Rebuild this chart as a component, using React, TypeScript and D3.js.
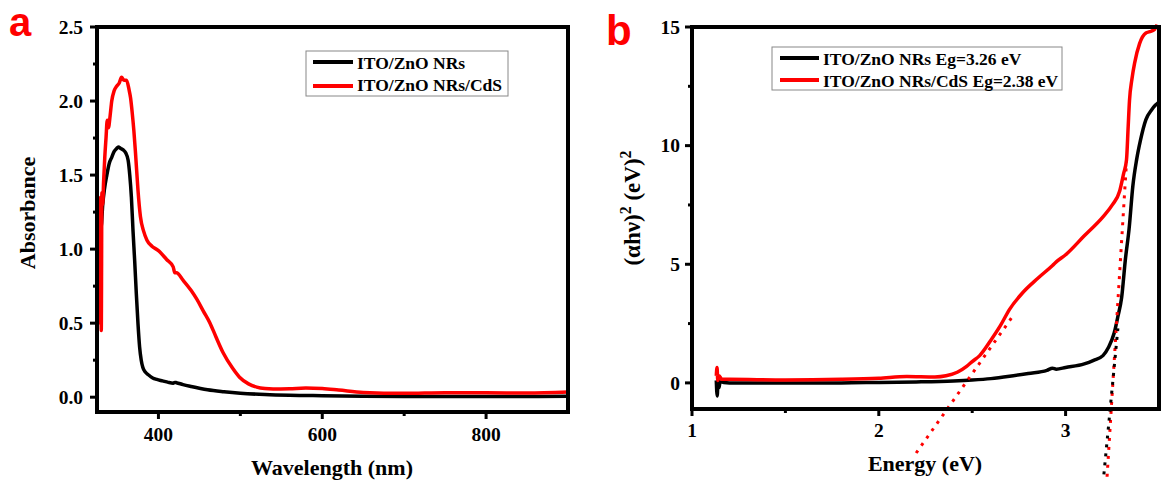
import React from "react";
import * as d3 from "d3";

// ---------- Panel a: UV-Vis absorbance ----------
const wlBlack = [325.5, 327, 328.5, 330, 332, 334, 337, 340, 343, 346, 349, 351, 354, 357, 360, 363, 365, 367, 369, 371, 373, 375, 377, 379, 381, 384, 388, 393, 398, 405, 412, 418, 420, 422, 430, 440, 460, 480, 500, 530, 560, 600, 650, 700, 800, 900];
const absBlack = [1.2, 0.95, 1.25, 1.15, 1.3, 1.4, 1.5, 1.58, 1.62, 1.66, 1.68, 1.69, 1.68, 1.67, 1.65, 1.6, 1.5, 1.35, 1.12, 0.92, 0.7, 0.5, 0.34, 0.25, 0.2, 0.17, 0.15, 0.13, 0.12, 0.11, 0.1, 0.095, 0.1, 0.098, 0.085, 0.072, 0.05, 0.037, 0.027, 0.018, 0.013, 0.01, 0.007, 0.005, 0.004, 0.006];

const wlRed = [325.5, 326.2, 327, 327.8, 328.6, 329.4, 330.2, 331, 332, 333, 334.5, 336, 337.5, 339, 341, 343, 346, 349, 352, 355, 358, 361, 364, 366, 368, 370, 372, 375, 378, 382, 386, 392, 400, 410, 418, 420, 422, 430, 440, 447, 455, 463, 470, 479, 490, 499, 510, 520, 530, 540, 560, 580, 600, 620, 650, 700, 750, 800, 850, 900];
const absRed = [0.6, 1.05, 0.55, 1.3, 0.5, 1.35, 0.45, 1.38, 1.3, 1.45, 1.62, 1.75, 1.87, 1.82, 1.9, 2.0, 2.07, 2.1, 2.12, 2.16, 2.14, 2.14, 2.08, 2.02, 1.92, 1.8, 1.65, 1.4, 1.22, 1.12, 1.06, 1.02, 0.99, 0.93, 0.88, 0.84, 0.84, 0.79, 0.72, 0.66, 0.58, 0.5, 0.41, 0.3, 0.2, 0.135, 0.09, 0.068, 0.058, 0.055, 0.057, 0.062, 0.058, 0.048, 0.032, 0.026, 0.03, 0.03, 0.028, 0.035];

const aXTicks = [400, 600, 800];
const aXMinor = [500, 700];
const aYTicks = [0, 0.5, 1.0, 1.5, 2.0, 2.5];
const aYMinor = [0.25, 0.75, 1.25, 1.75, 2.25];
const aLegend = ["ITO/ZnO NRs", "ITO/ZnO NRs/CdS"];

// ---------- Panel b: Tauc plot ----------
const eBlack = [1.13, 1.135, 1.14, 1.145, 1.15, 1.17, 1.2, 1.3, 1.5, 1.8, 2.0, 2.2, 2.4, 2.5, 2.6, 2.7, 2.8, 2.9, 2.93, 2.95, 3.0, 3.1, 3.15, 3.2, 3.23, 3.26, 3.28, 3.3, 3.32, 3.34, 3.36, 3.38, 3.4, 3.43, 3.46, 3.48, 3.495];
const tBlack = [0.1, -0.55, 0.2, -0.2, 0.05, 0.02, 0.0, 0.0, 0.0, 0.0, 0.02, 0.04, 0.08, 0.12, 0.18, 0.28, 0.4, 0.53, 0.62, 0.58, 0.65, 0.8, 0.95, 1.15, 1.5, 2.1, 2.8, 3.6, 5.2, 6.5, 8.3, 9.4, 10.2, 11.1, 11.5, 11.7, 11.8];

const eRed = [1.13, 1.134, 1.138, 1.145, 1.16, 1.2, 1.5, 1.8, 2.0, 2.15, 2.3, 2.36, 2.42, 2.47, 2.5, 2.54, 2.6, 2.65, 2.7, 2.77, 2.85, 2.93, 2.95, 3.0, 3.1, 3.2, 3.25, 3.29, 3.31, 3.326, 3.335, 3.342, 3.355, 3.37, 3.396, 3.43, 3.45, 3.476, 3.49];
const tRed = [0.3, 0.65, 0.1, 0.3, 0.15, 0.15, 0.12, 0.15, 0.2, 0.27, 0.25, 0.3, 0.45, 0.7, 0.9, 1.15, 1.8, 2.4, 3.1, 3.8, 4.4, 4.95, 5.1, 5.4, 6.2, 7.0, 7.5, 8.1, 8.8, 9.4, 10.8, 11.9, 12.8, 13.5, 14.3, 14.75, 14.8, 14.9, 15.1];

// tangent (extrapolation) lines: [slope, x-intercept, Estart, Eend]
const tangentRedLow = [11.15, 2.465, 2.2, 2.72];
const tangentRedHigh = [127.6, 3.253, 3.222, 3.326];
const tangentBlack = [82, 3.252, 3.205, 3.28];

const bXTicks = [1, 2, 3];
const bXMinor = [1.5, 2.5];
const bYTicks = [0, 5, 10, 15];
const bYMinor = [2.5, 7.5, 12.5];
const bLegend = ["ITO/ZnO NRs Eg=3.26 eV", "ITO/ZnO NRs/CdS Eg=2.38 eV"];

const RED = "#ff0000";
const SERIF = "'Liberation Serif', 'Times New Roman', serif";
const SANS = "'Liberation Sans', Arial, sans-serif";

export default function App() {
  // panel a scales
  const ax = d3.scaleLinear().domain([325, 900]).range([97, 568]);
  const ay = d3.scaleLinear().domain([-0.1, 2.5]).range([412, 27]);
  // panel b scales
  const bx = d3.scaleLinear().domain([1, 3.5]).range([692, 1159]);
  const by = d3.scaleLinear().domain([-1.1, 15]).range([409, 27]);

  const blackA = d3.line<number>().curve(d3.curveMonotoneX).x((_, i) => ax(wlBlack[i])).y((v) => ay(v))(absBlack) || "";
  const redA = d3.line<number>().curve(d3.curveMonotoneX).x((_, i) => ax(wlRed[i])).y((v) => ay(v))(absRed) || "";
  const blackB = d3.line<number>().curve(d3.curveMonotoneX).x((_, i) => bx(eBlack[i])).y((v) => by(v))(tBlack) || "";
  const redB = d3.line<number>().curve(d3.curveMonotoneX).x((_, i) => bx(eRed[i])).y((v) => by(v))(tRed) || "";

  const tangent = (t: number[]) => {
    const [m, e0, s, e] = t;
    return d3.line<number>().x((d) => bx(d)).y((d) => by(m * (d - e0)))([s, e]) || "";
  };

  const fmtA = d3.format(".1f");
  const tickText = { fontFamily: SERIF, fontWeight: "bold" as const, fontSize: 19.5, fill: "#000" };
  const titleText = { fontFamily: SERIF, fontWeight: "bold" as const, fontSize: 22, fill: "#000" };
  const legText = { fontFamily: SERIF, fontWeight: "bold" as const, fontSize: 17.5, fill: "#000" };

  const frame = (x0: number, x1: number, y0: number, y1: number) => (
    <rect x={x0} y={y0} width={x1 - x0} height={y1 - y0} fill="none" stroke="#000" strokeWidth={4} />
  );

  return (
    <svg width={1169} height={483} style={{ position: "absolute", left: 0, top: 0, background: "#fff" }}>
      {/* ===== Panel a ===== */}
      <text x={9} y={36} fill={RED} fontFamily={SANS} fontWeight="bold" fontSize={40}>a</text>
      <path d={blackA} fill="none" stroke="#000" strokeWidth={3.5} strokeLinejoin="round" />
      <path d={redA} fill="none" stroke={RED} strokeWidth={3.5} strokeLinejoin="round" />
      {frame(ax.range()[0], ax.range()[1], ay.range()[1], ay.range()[0])}
      {aYTicks.map((t) => (
        <g key={"ay" + t}>
          <line x1={97 - 7} x2={97} y1={ay(t)} y2={ay(t)} stroke="#000" strokeWidth={3} />
          <text x={83} y={ay(t)} dy="0.35em" textAnchor="end" {...tickText}>{fmtA(t)}</text>
        </g>
      ))}
      {aYMinor.map((t) => (
        <line key={"aym" + t} x1={97 - 4} x2={97} y1={ay(t)} y2={ay(t)} stroke="#000" strokeWidth={3} />
      ))}
      {aXTicks.map((t) => (
        <g key={"ax" + t}>
          <line x1={ax(t)} x2={ax(t)} y1={412} y2={412 + 7} stroke="#000" strokeWidth={3} />
          <text x={ax(t)} y={441} textAnchor="middle" {...tickText}>{t}</text>
        </g>
      ))}
      {aXMinor.map((t) => (
        <line key={"axm" + t} x1={ax(t)} x2={ax(t)} y1={412} y2={412 + 4} stroke="#000" strokeWidth={3} />
      ))}
      <text x={332} y={475} textAnchor="middle" {...titleText}>Wavelength (nm)</text>
      <text transform={`translate(35,${213}) rotate(-90)`} textAnchor="middle" {...titleText}>Absorbance</text>
      {/* legend a */}
      <rect x={306} y={51} width={202} height={45} fill="#fff" stroke="#888" strokeWidth={1} />
      {aLegend.map((s, i) => (
        <g key={"la" + i}>
          <line x1={313} x2={353} y1={62 + i * 24} y2={62 + i * 24} stroke={i === 0 ? "#000" : RED} strokeWidth={4} />
          <text x={357} y={69 + i * 22} {...legText}>{s}</text>
        </g>
      ))}

      {/* ===== Panel b ===== */}
      <text x={606} y={45} fill={RED} fontFamily={SANS} fontWeight="bold" fontSize={42}>b</text>
      <path d={blackB} fill="none" stroke="#000" strokeWidth={3.5} strokeLinejoin="round" />
      <path d={redB} fill="none" stroke={RED} strokeWidth={3.5} strokeLinejoin="round" />
      <path d={tangent(tangentRedLow)} fill="none" stroke={RED} strokeWidth={3} strokeDasharray="3,6" />
      <path d={tangent(tangentRedHigh)} fill="none" stroke={RED} strokeWidth={3} strokeDasharray="3,6" />
      <path d={tangent(tangentBlack)} fill="none" stroke="#000" strokeWidth={3} strokeDasharray="3,6" />
      {frame(bx.range()[0], bx.range()[1], by.range()[1], by.range()[0])}
      {bYTicks.map((t) => (
        <g key={"by" + t}>
          <line x1={692 - 7} x2={692} y1={by(t)} y2={by(t)} stroke="#000" strokeWidth={3} />
          <text x={680} y={by(t)} dy="0.35em" textAnchor="end" {...tickText}>{t}</text>
        </g>
      ))}
      {bYMinor.map((t) => (
        <line key={"bym" + t} x1={692 - 4} x2={692} y1={by(t)} y2={by(t)} stroke="#000" strokeWidth={3} />
      ))}
      {bXTicks.map((t) => (
        <g key={"bx" + t}>
          <line x1={bx(t)} x2={bx(t)} y1={409} y2={409 + 7} stroke="#000" strokeWidth={3} />
          <text x={bx(t)} y={437} textAnchor="middle" {...tickText}>{t}</text>
        </g>
      ))}
      {bXMinor.map((t) => (
        <line key={"bxm" + t} x1={bx(t)} x2={bx(t)} y1={409} y2={409 + 4} stroke="#000" strokeWidth={3} />
      ))}
      <text x={925} y={471} textAnchor="middle" {...titleText}>Energy (eV)</text>
      <text transform={`translate(640,${208}) rotate(-90)`} textAnchor="middle" {...titleText} fontSize={23}>
        (αhν)<tspan dy={-9} fontSize={16}>2</tspan><tspan dy={9}> (eV)</tspan><tspan dy={-9} fontSize={16}>2</tspan>
      </text>
      {/* legend b */}
      <rect x={772} y={47} width={290} height={43} fill="#fff" stroke="#888" strokeWidth={1} />
      {bLegend.map((s, i) => (
        <g key={"lb" + i}>
          <line x1={780} x2={819} y1={58 + i * 22} y2={58 + i * 22} stroke={i === 0 ? "#000" : RED} strokeWidth={4} />
          <text x={823} y={65 + i * 22} {...legText}>{s}</text>
        </g>
      ))}
    </svg>
  );
}
